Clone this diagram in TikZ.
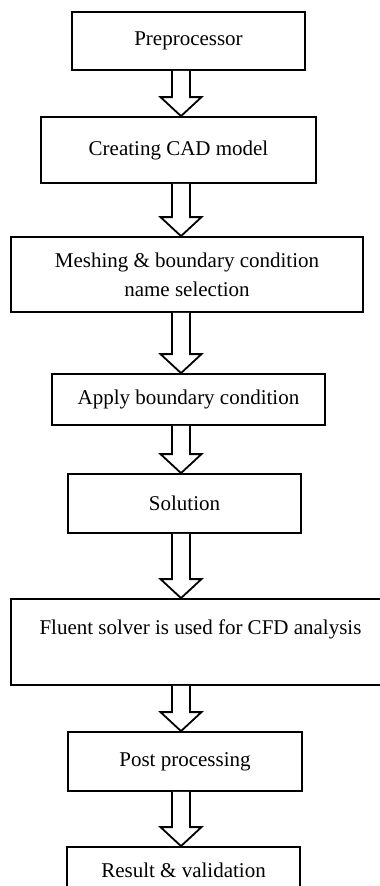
\documentclass[tikz,border=0pt]{standalone}
\usepackage{fontspec}
\setmainfont{Liberation Serif}
\usetikzlibrary{calc}

\newcommand{\flowarrow}[2]{%
\draw[hollow] let \p0=(spine), \p1=(#1.south), \p2=(#2.north) in
  (\x0-9pt,\y1) -- (\x0-9pt,\y2+19pt) -- (\x0-20.5pt,\y2+19pt) -- (\x0,\y2)
  -- (\x0+20.5pt,\y2+19pt) -- (\x0+9pt,\y2+19pt) -- (\x0+9pt,\y1);
}

\begin{document}
\begin{tikzpicture}[x=1pt,y=-1pt,
  stage/.style={draw,line width=1.8pt,inner sep=0pt,align=center,
    font=\fontsize{21}{29}\selectfont},
  hollow/.style={draw,line width=1.8pt,fill=white,line join=miter}]
\clip (0,0) rectangle (380,886);

\coordinate (spine) at (181,0);

\node[stage,minimum width=233pt,minimum height=58pt] (prep) at (188.5,41) {Preprocessor};
\node[stage,minimum width=275pt,minimum height=66pt] (cad) at (178.5,150) {Creating CAD model};
\node[stage,minimum width=352pt,minimum height=75pt] (mesh) at (187,274.5) {Meshing \& boundary condition\\name selection};
\node[stage,minimum width=273pt,minimum height=51pt] (bc) at (188.5,399.5) {Apply boundary condition};
\node[stage,minimum width=233pt,minimum height=59pt] (sol) at (184.5,503.5) {Solution};
\node[stage,minimum width=379pt,minimum height=86pt] (fluent) at (200.5,642) {Fluent solver is used for CFD analysis\\~};
\node[stage,minimum width=234pt,minimum height=59pt] (post) at (185,761.5) {Post processing};
\node[stage,minimum width=233pt,minimum height=46pt] (result) at (183.5,870) {Result \& validation};

\flowarrow{prep}{cad}
\flowarrow{cad}{mesh}
\flowarrow{mesh}{bc}
\flowarrow{bc}{sol}
\flowarrow{sol}{fluent}
\flowarrow{fluent}{post}
\flowarrow{post}{result}
\end{tikzpicture}
\end{document}
